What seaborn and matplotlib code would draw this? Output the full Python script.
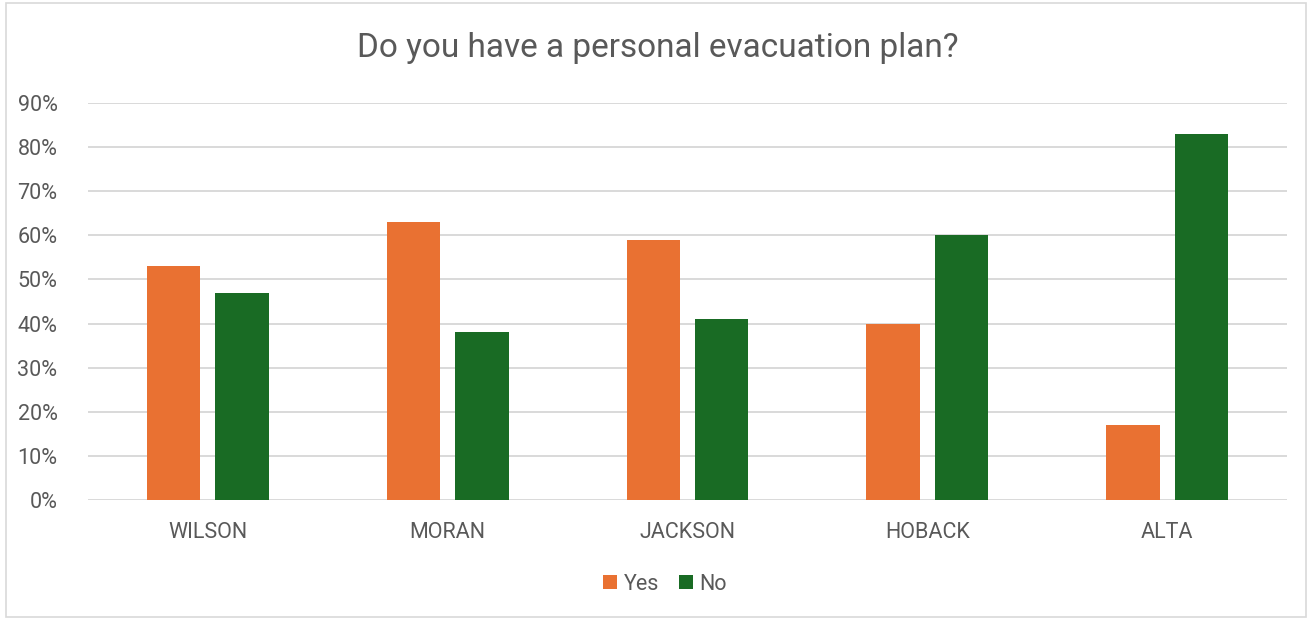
import matplotlib
matplotlib.use("Agg")
import matplotlib.pyplot as plt
import seaborn as sns
import pandas as pd
from matplotlib.patches import Rectangle
from matplotlib.ticker import FuncFormatter, MultipleLocator

categories = ["WILSON", "MORAN", "JACKSON", "HOBACK", "ALTA"]
yes_vals = [0.53, 0.63, 0.59, 0.40, 0.17]
no_vals = [0.47, 0.38, 0.41, 0.60, 0.83]
series = ["Yes", "No"]
colors = ["#E97132", "#196B24"]

df = pd.DataFrame({
    "Location": categories * 2,
    "Answer": [series[0]] * len(categories) + [series[1]] * len(categories),
    "Value": yes_vals + no_vals,
})

sns.set_theme(style="white")
plt.rcParams["font.family"] = ["Roboto", "DejaVu Sans"]

fig = plt.figure(figsize=(13.15, 6.2), dpi=100)
ax = fig.add_axes([88 / 1315, 1 - 500 / 620, (1287 - 88) / 1315, (500 - 103) / 620])

sns.barplot(data=df, x="Location", y="Value", hue="Answer", palette=colors,
            width=0.571, gap=0.22, ax=ax, legend=True, saturation=1, linewidth=0)

ax.set_ylim(0, 0.9)
ax.set_xlim(-0.5, 4.5)
ax.yaxis.set_major_locator(MultipleLocator(0.1))
ax.yaxis.set_major_formatter(FuncFormatter(lambda v, p: f"{v*100:.0f}%"))
ax.grid(axis="y", color="#D9D9D9", linewidth=1.4)
ax.set_axisbelow(True)
for s in ax.spines.values():
    s.set_visible(False)
ax.set_xlabel("")
ax.set_ylabel("")
ax.tick_params(axis="both", length=0, labelsize=15.5, labelcolor="#595959")
ax.tick_params(axis="x", pad=16)
ax.tick_params(axis="y", pad=22)

fig.text(0.5, 1 - 48 / 620, "Do you have a personal evacuation plan?",
         ha="center", va="center", fontsize=24, color="#595959")

leg = ax.legend(loc="center", bbox_to_anchor=((665 - 88) / 1199, (500 - 584) / (500 - 103)),
                ncol=2, frameon=False, fontsize=15.5, handlelength=0.65, handleheight=0.65,
                handletextpad=0.3, columnspacing=0.9)
for t in leg.get_texts():
    t.set_color("#595959")

fig.patches.append(Rectangle((6 / 1315, 0.005), (1306 - 6) / 1315, 0.99, transform=fig.transFigure,
                             fill=False, edgecolor="#D9D9D9", linewidth=1.2))

fig.savefig("out.png", dpi=100, facecolor="white")
